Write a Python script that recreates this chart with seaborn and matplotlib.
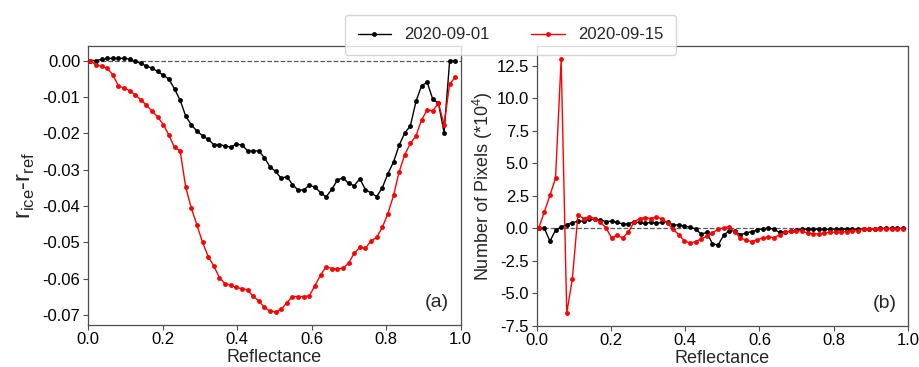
import numpy as np
import pandas as pd
import matplotlib
matplotlib.use("Agg")
import matplotlib.pyplot as plt
from matplotlib.ticker import MultipleLocator, FormatStrFormatter
import seaborn as sns

# ---------------- data ----------------
dates = ["2020-09-01", "2020-09-15"]
reflectance = np.linspace(0.006, 0.986, 66)   # bin centres

diff_0901 = [0.0, 0.0, 0.0003, 0.0006, 0.0006, 0.0006, 0.0006, 0.0004, -0.0002, -0.0008,
             -0.0015, -0.0021, -0.0030, -0.0040, -0.0051, -0.0078, -0.0109, -0.0153, -0.0177, -0.0194,
             -0.0207, -0.0217, -0.0231, -0.0231, -0.0235, -0.0238, -0.0230, -0.0232, -0.0248, -0.0249,
             -0.0248, -0.0267, -0.0292, -0.0305, -0.0324, -0.0319, -0.0341, -0.0356, -0.0356, -0.0343,
             -0.0348, -0.0363, -0.0375, -0.0354, -0.0329, -0.0322, -0.0338, -0.0344, -0.0325, -0.0355,
             -0.0364, -0.0374, -0.0350, -0.0311, -0.0279, -0.0233, -0.0199, -0.0180, -0.0112, -0.0069,
             -0.0060, -0.0107, -0.0117, -0.0198, 0.0, 0.0]
diff_0915 = [0.0, -0.0012, -0.0016, -0.0021, -0.0039, -0.0069, -0.0076, -0.0083, -0.0094, -0.0108,
             -0.0123, -0.0139, -0.0155, -0.0176, -0.0205, -0.0239, -0.0248, -0.0349, -0.0406, -0.0453,
             -0.0500, -0.0539, -0.0565, -0.0597, -0.0614, -0.0618, -0.0624, -0.0627, -0.0631, -0.0648,
             -0.0661, -0.0679, -0.0689, -0.0691, -0.0684, -0.0666, -0.0649, -0.0649, -0.0649, -0.0647,
             -0.0619, -0.0590, -0.0567, -0.0572, -0.0573, -0.0571, -0.0557, -0.0530, -0.0514, -0.0516,
             -0.0496, -0.0486, -0.0459, -0.0421, -0.0371, -0.0306, -0.0259, -0.0228, -0.0207, -0.0163,
             -0.0136, -0.0138, -0.0118, -0.0176, -0.0064, -0.0046]

pix_0901 = [0.0, 0.0, -1.0, -0.15, 0.08, 0.28, 0.41, 0.54, 0.54, 0.67,
            0.69, 0.64, 0.51, 0.54, 0.44, 0.33, 0.33, 0.49, 0.44, 0.36,
            0.46, 0.38, 0.44, 0.51, 0.23, 0.26, 0.15, 0.08, -0.05, -0.46,
            -0.33, -1.18, -1.31, -0.56, -0.18, -0.23, -0.49, -0.38, -0.26, -0.15,
            -0.05, 0.0, -0.08, -0.33, -0.28, -0.23, -0.15, -0.10, -0.08, -0.08,
            -0.08, -0.08, -0.08, -0.08, -0.08, -0.08, -0.08, -0.08, -0.05, -0.05,
            -0.03, -0.02, -0.02, -0.02, -0.02, -0.02]
pix_0915 = [0.0, 1.26, 2.52, 3.85, 12.99, -6.52, -3.90, 1.03, 0.74, 0.87,
            0.74, 0.46, 0.03, -0.74, -0.56, -0.74, -0.31, 0.46, 0.74, 0.82,
            0.74, 0.87, 0.72, 0.38, -0.10, -0.49, -0.98, -1.13, -1.05, -0.82,
            -0.62, -0.38, -0.08, 0.03, 0.10, -0.28, -0.74, -0.92, -1.03, -0.90,
            -0.74, -0.69, -0.72, -0.51, -0.33, -0.23, -0.18, -0.21, -0.38, -0.44,
            -0.44, -0.36, -0.31, -0.31, -0.31, -0.26, -0.23, -0.18, -0.10, -0.08,
            -0.05, -0.03, -0.03, -0.03, -0.03, -0.03]

df_a = pd.DataFrame({
    "Reflectance": np.concatenate([reflectance, reflectance]),
    "value": np.concatenate([diff_0901, diff_0915]),
    "date": [dates[0]] * len(reflectance) + [dates[1]] * len(reflectance),
})
df_b = pd.DataFrame({
    "Reflectance": np.concatenate([reflectance, reflectance]),
    "value": np.concatenate([pix_0901, pix_0915]),
    "date": [dates[0]] * len(reflectance) + [dates[1]] * len(reflectance),
})

# ---------------- style ----------------
sns.set_style("ticks")
plt.rcParams["font.family"] = ["Liberation Sans", "DejaVu Sans"]
plt.rcParams["axes.unicode_minus"] = False
plt.rcParams["axes.edgecolor"] = "0.3"
plt.rcParams["xtick.color"] = "0.3"
plt.rcParams["ytick.color"] = "0.3"
plt.rcParams["xtick.labelcolor"] = "black"
plt.rcParams["ytick.labelcolor"] = "black"

palette = {dates[0]: "black", dates[1]: "red"}

fig = plt.figure(figsize=(9.19, 3.67), dpi=100)
ax1 = fig.add_axes([0.0958, 0.1158, 0.4053, 0.7597])
ax2 = fig.add_axes([0.5838, 0.1125, 0.4042, 0.7608])

for ax, df in ((ax1, df_a), (ax2, df_b)):
    ax.axhline(0, color="0.35", ls="--", lw=0.9, zorder=1)
    sns.lineplot(data=df, x="Reflectance", y="value", hue="date", palette=palette,
                 marker="o", markersize=3.5, markeredgewidth=0, linewidth=1.0,
                 legend=False, ax=ax, zorder=3, sort=False)
    ax.set_xlim(0, 1)
    ax.xaxis.set_major_locator(MultipleLocator(0.2))
    ax.xaxis.set_major_formatter(FormatStrFormatter("%.1f"))
    ax.tick_params(labelsize=12, length=3.5, width=0.8, pad=2)
    ax.set_xlabel("Reflectance", fontsize=13, labelpad=1)
    for s in ax.spines.values():
        s.set_linewidth(0.9)

ax1.yaxis.set_major_locator(MultipleLocator(0.01))
ax1.yaxis.set_major_formatter(FormatStrFormatter("%.2f"))
ax1.set_ylabel(r"r$_{\mathregular{ice}}$-r$_{\mathregular{ref}}$", fontsize=17, labelpad=4)
ax1.text(0.97, 0.05, "(a)", transform=ax1.transAxes, ha="right", va="bottom", fontsize=14)

ax2.set_ylim(-7.5, 13.97)
ax2.yaxis.set_major_locator(MultipleLocator(2.5))
ax2.yaxis.set_major_formatter(FormatStrFormatter("%.1f"))
ax2.set_ylabel(r"Number of Pixels (*10$^{\mathregular{4}}$)", fontsize=13, labelpad=1)
ax2.text(0.97, 0.05, "(b)", transform=ax2.transAxes, ha="right", va="bottom", fontsize=14)

handles = [ax1.lines[1], ax1.lines[2]]
fig.legend(handles, dates, loc="upper center", bbox_to_anchor=(0.5555, 0.982), ncol=2,
           fontsize=12, frameon=True, columnspacing=2.5, handlelength=2.0,
           borderpad=0.75, edgecolor="0.8", fancybox=True, markerscale=1.0)

fig.savefig("out.png", dpi=100)
